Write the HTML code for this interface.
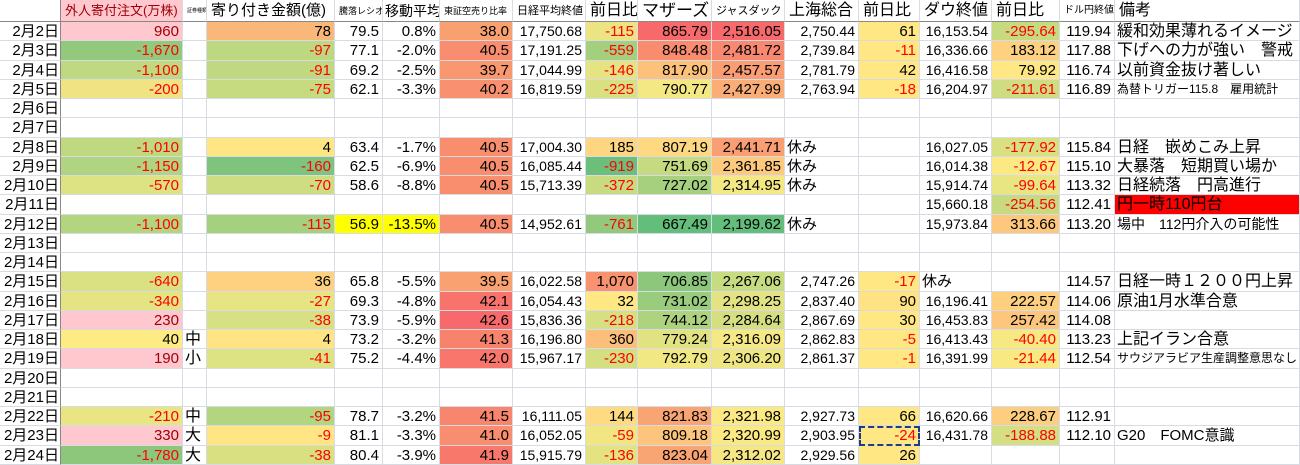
<!DOCTYPE html>
<html><head><meta charset="utf-8"><style>
*{margin:0;padding:0;box-sizing:border-box}
body{width:1300px;height:465px;overflow:hidden;background:#fff;font-family:"Liberation Sans","Noto Sans CJK JP",sans-serif;color:#000}
.g{display:grid;grid-template-columns:61px 122px 24px 128px 48px 57px 73px 73px 52px 74px 73px 74px 61px 72px 68px 55px 185px;grid-template-rows:22px repeat(23,19.26px);width:1300px}
.g>div{border-right:1px solid #d6dbe4;border-bottom:1px solid #d6dbe4;text-align:right;padding-right:3px;white-space:nowrap;overflow:hidden;line-height:19px;font-size:15px}
.g>div:nth-child(17n+1){border-right:1px solid #888;padding-right:1px;font-size:15px}
.h{border-bottom:1px solid #888 !important;text-align:left !important;padding-left:4px;line-height:22px !important}
.l{text-align:left !important;padding-left:2px}
.n{color:#f00}
.p{background:#ffc7ce;color:#9c0006}
.s{font-size:14px !important}
</style></head><body><div class="g">
<div class="h"></div><div class="h p" style="font-size:13px">外人寄付注文(万株)</div><div class="h" style="font-size:5px">証券種類</div><div class="h" style="font-size:15px">寄り付き金額(億)</div><div class="h" style="font-size:9px">騰落レシオ</div><div class="h" style="font-size:14px;padding-left:2px">移動平均</div><div class="h" style="font-size:9px">東証空売り比率</div><div class="h" style="font-size:11px">日経平均終値</div><div class="h" style="font-size:16px">前日比</div><div class="h" style="font-size:17px">マザーズ</div><div class="h" style="font-size:11px">ジャスダック</div><div class="h" style="font-size:16px">上海総合</div><div class="h" style="font-size:16px">前日比</div><div class="h" style="font-size:16px">ダウ終値</div><div class="h" style="font-size:16px">前日比</div><div class="h" style="font-size:10px">ドル円終値</div><div class="h" style="font-size:16px">備考</div>

<div>2月2日</div><div class="p">960</div><div></div><div style="background:#f9b87a">78</div><div>79.5</div><div>0.8%</div><div style="background:#f9a070">38.0</div><div class="s">17,750.68</div><div class="n" style="background:#ece382">-115</div><div style="background:#f8696b">865.79</div><div style="background:#f8696b">2,516.05</div><div class="s">2,750.44</div><div style="background:#ffe784">61</div><div class="s">16,153.54</div><div class="n" style="background:#c6da80">-295.64</div><div>119.94</div><div class="l" style="font-size:16px">緩和効果薄れるイメージ</div>

<div>2月3日</div><div class="n" style="background:#92c97c">-1,670</div><div></div><div class="n" style="background:#bcd881">-97</div><div>77.1</div><div>-2.0%</div><div style="background:#f98d6f">40.5</div><div class="s">17,191.25</div><div class="n" style="background:#a3cf7e">-559</div><div style="background:#f98b6e">848.48</div><div style="background:#f98870">2,481.72</div><div class="s">2,739.84</div><div class="n" style="background:#ffe784">-11</div><div class="s">16,336.66</div><div style="background:#fdd17f">183.12</div><div>117.88</div><div class="l" style="font-size:16px">下げへの力が強い　警戒</div>

<div>2月4日</div><div class="n" style="background:#bfd980">-1,100</div><div></div><div class="n" style="background:#c0d980">-91</div><div>69.2</div><div>-2.5%</div><div style="background:#f9976f">39.7</div><div class="s">17,044.99</div><div class="n" style="background:#e6e383">-146</div><div style="background:#fcc27c">817.90</div><div style="background:#fa9d73">2,457.57</div><div class="s">2,781.79</div><div style="background:#ffe784">42</div><div class="s">16,416.58</div><div style="background:#ffe784">79.92</div><div>116.74</div><div class="l" style="font-size:16px">以前資金抜け著しい</div>

<div>2月5日</div><div class="n" style="background:#efe383">-200</div><div></div><div class="n" style="background:#c6da80">-75</div><div>62.1</div><div>-3.3%</div><div style="background:#f9906f">40.2</div><div class="s">16,819.59</div><div class="n" style="background:#d9e082">-225</div><div style="background:#f4e884">790.77</div><div style="background:#fbad77">2,427.99</div><div class="s">2,763.94</div><div class="n" style="background:#ffe784">-18</div><div class="s">16,204.97</div><div class="n" style="background:#cfdd82">-211.61</div><div>116.89</div><div class="l" style="font-size:12px">為替トリガー115.8　雇用統計</div>

<div>2月6日</div><div></div><div></div><div></div><div></div><div></div><div></div><div></div><div></div><div></div><div></div><div></div><div></div><div></div><div></div><div></div><div></div>
<div>2月7日</div><div></div><div></div><div></div><div></div><div></div><div></div><div></div><div></div><div></div><div></div><div></div><div></div><div></div><div></div><div></div><div></div>

<div>2月8日</div><div class="n" style="background:#bfd980">-1,010</div><div></div><div style="background:#ffe584">4</div><div>63.4</div><div>-1.7%</div><div style="background:#f98e6f">40.5</div><div class="s">17,004.30</div><div style="background:#fed580">185</div><div style="background:#fed981">807.19</div><div style="background:#fa9e73">2,441.71</div><div class="l">休み</div><div></div><div class="s">16,027.05</div><div class="n" style="background:#d8e082">-177.92</div><div>115.84</div><div class="l" style="font-size:16px">日経　嵌めこみ上昇</div>

<div>2月9日</div><div class="n" style="background:#b0d47f">-1,150</div><div></div><div class="n" style="background:#7fc47c">-160</div><div>62.5</div><div>-6.9%</div><div style="background:#f98e6f">40.5</div><div class="s">16,085.44</div><div class="n" style="background:#6bbf7b">-919</div><div style="background:#c5da81">751.69</div><div style="background:#fdca7d">2,361.85</div><div class="l">休み</div><div></div><div class="s">16,014.38</div><div class="n" style="background:#fbe983">-12.67</div><div>115.10</div><div class="l" style="font-size:16px">大暴落　短期買い場か</div>

<div>2月10日</div><div class="n" style="background:#dde283">-570</div><div></div><div class="n" style="background:#cfdd82">-70</div><div>58.6</div><div>-8.8%</div><div style="background:#f98e6f">40.5</div><div class="s">15,713.39</div><div class="n" style="background:#c8db81">-372</div><div style="background:#a7d07e">727.02</div><div style="background:#f4e884">2,314.95</div><div class="l">休み</div><div></div><div class="s">15,914.74</div><div class="n" style="background:#e8e583">-99.64</div><div>113.32</div><div class="l" style="font-size:16px">日経続落　円高進行</div>

<div>2月11日</div><div></div><div></div><div></div><div></div><div></div><div></div><div></div><div></div><div></div><div></div><div></div><div></div><div class="s">15,660.18</div><div class="n" style="background:#c7da80">-254.56</div><div>112.41</div><div class="l" style="font-size:16px;background:#ff0000">円一時110円台</div>

<div>2月12日</div><div class="n" style="background:#b3d57f">-1,100</div><div></div><div class="n" style="background:#a5d07e">-115</div><div style="background:#ffff00">56.9</div><div style="background:#ffff00">-13.5%</div><div style="background:#f98e6f">40.5</div><div class="s">14,952.61</div><div class="n" style="background:#93c97d">-761</div><div style="background:#63be7b">667.49</div><div style="background:#63be7b">2,199.62</div><div class="l">休み</div><div></div><div class="s">15,973.84</div><div style="background:#fdc87d">313.66</div><div>113.20</div><div class="l" style="font-size:14px">場中　112円介入の可能性</div>

<div>2月13日</div><div></div><div></div><div></div><div></div><div></div><div></div><div></div><div></div><div></div><div></div><div></div><div></div><div></div><div></div><div></div><div></div>
<div>2月14日</div><div></div><div></div><div></div><div></div><div></div><div></div><div></div><div></div><div></div><div></div><div></div><div></div><div></div><div></div><div></div><div></div>

<div>2月15日</div><div class="n" style="background:#d9e182">-640</div><div></div><div style="background:#fdd17f">36</div><div>65.8</div><div>-5.5%</div><div style="background:#f9a170">39.5</div><div class="s">16,022.58</div><div style="background:#f8926f">1,070</div><div style="background:#8cc77c">706.85</div><div style="background:#c7db81">2,267.06</div><div class="s">2,747.26</div><div class="n" style="background:#ffe784">-17</div><div class="l">休み</div><div></div><div>114.57</div><div class="l" style="font-size:16px">日経一時１２００円上昇</div>

<div>2月16日</div><div class="n" style="background:#e5e483">-340</div><div></div><div class="n" style="background:#e6e483">-27</div><div>69.3</div><div>-4.8%</div><div style="background:#f8736c">42.1</div><div class="s">16,054.43</div><div style="background:#ffe784">32</div><div style="background:#9acc7d">731.02</div><div style="background:#e4e383">2,298.25</div><div class="s">2,837.40</div><div style="background:#fee283">90</div><div class="s">16,196.41</div><div style="background:#fdcf7f">222.57</div><div>114.06</div><div class="l" style="font-size:16px">原油1月水準合意</div>

<div>2月17日</div><div class="p">230</div><div></div><div class="n" style="background:#d7e082">-38</div><div>73.9</div><div>-5.9%</div><div style="background:#f8696b">42.6</div><div class="s">15,836.36</div><div class="n" style="background:#d6e082">-218</div><div style="background:#aed37f">744.12</div><div style="background:#d5df82">2,284.64</div><div class="s">2,867.69</div><div style="background:#ffe784">30</div><div class="s">16,453.83</div><div style="background:#fcc77d">257.42</div><div>114.08</div><div class="l"></div>

<div>2月18日</div><div style="background:#ffeb84">40</div><div class="l" style="font-size:16px">中</div><div style="background:#ffe484">4</div><div>73.2</div><div>-3.2%</div><div style="background:#f8836d">41.3</div><div class="s">16,196.80</div><div style="background:#fcbf7b">360</div><div style="background:#e1e383">779.24</div><div style="background:#f6e884">2,316.09</div><div class="s">2,862.83</div><div class="n" style="background:#ffe784">-5</div><div class="s">16,413.43</div><div class="n" style="background:#f6e883">-40.40</div><div>113.23</div><div class="l" style="font-size:16px">上記イラン合意</div>

<div>2月19日</div><div class="p">190</div><div class="l" style="font-size:16px">小</div><div class="n" style="background:#dde282">-41</div><div>75.2</div><div>-4.4%</div><div style="background:#f8766c">42.0</div><div class="s">15,967.17</div><div class="n" style="background:#d4df81">-230</div><div style="background:#f1e783">792.79</div><div style="background:#eee683">2,306.20</div><div class="s">2,861.37</div><div class="n" style="background:#ffe784">-1</div><div class="s">16,391.99</div><div class="n" style="background:#f9e983">-21.44</div><div>112.54</div><div class="l" style="font-size:12px">サウジアラビア生産調整意思なし</div>

<div>2月20日</div><div></div><div></div><div></div><div></div><div></div><div></div><div></div><div></div><div></div><div></div><div></div><div></div><div></div><div></div><div></div><div></div>
<div>2月21日</div><div></div><div></div><div></div><div></div><div></div><div></div><div></div><div></div><div></div><div></div><div></div><div></div><div></div><div></div><div></div><div></div>

<div>2月22日</div><div class="n" style="background:#e9e583">-210</div><div class="l" style="font-size:16px">中</div><div class="n" style="background:#b2d57f">-95</div><div>78.7</div><div>-3.2%</div><div style="background:#f8856d">41.5</div><div class="s">16,111.05</div><div style="background:#fedb81">144</div><div style="background:#f9a573">821.83</div><div style="background:#fbe983">2,321.98</div><div class="s">2,927.73</div><div style="background:#ffe784">66</div><div class="s">16,620.66</div><div style="background:#fdce7f">228.67</div><div>112.91</div><div class="l"></div>

<div>2月23日</div><div class="p">330</div><div class="l" style="font-size:16px">大</div><div class="n" style="background:#ffe584">-9</div><div>81.1</div><div>-3.3%</div><div style="background:#f98d6f">41.0</div><div class="s">16,052.05</div><div class="n" style="background:#f2e683">-59</div><div style="background:#fcc47c">809.18</div><div style="background:#fbe983">2,320.99</div><div class="s">2,903.95</div><div class="n" style="background:#ffe784;outline:2px dashed #1f3a8a;outline-offset:-2px">-24</div><div class="s">16,431.78</div><div class="n" style="background:#d3df82">-188.88</div><div>112.10</div><div class="l" style="font-size:15px">G20　FOMC意識</div>

<div>2月24日</div><div class="n" style="background:#8cc77c">-1,780</div><div class="l" style="font-size:16px">大</div><div class="n" style="background:#d9e082">-38</div><div>80.4</div><div>-3.9%</div><div style="background:#f8786c">41.9</div><div class="s">15,915.79</div><div class="n" style="background:#e3e382">-136</div><div style="background:#f9a473">823.04</div><div style="background:#f4e784">2,312.02</div><div class="s">2,929.56</div><div style="background:#ffe784">26</div><div></div><div></div><div></div><div></div>
</div></body></html>
